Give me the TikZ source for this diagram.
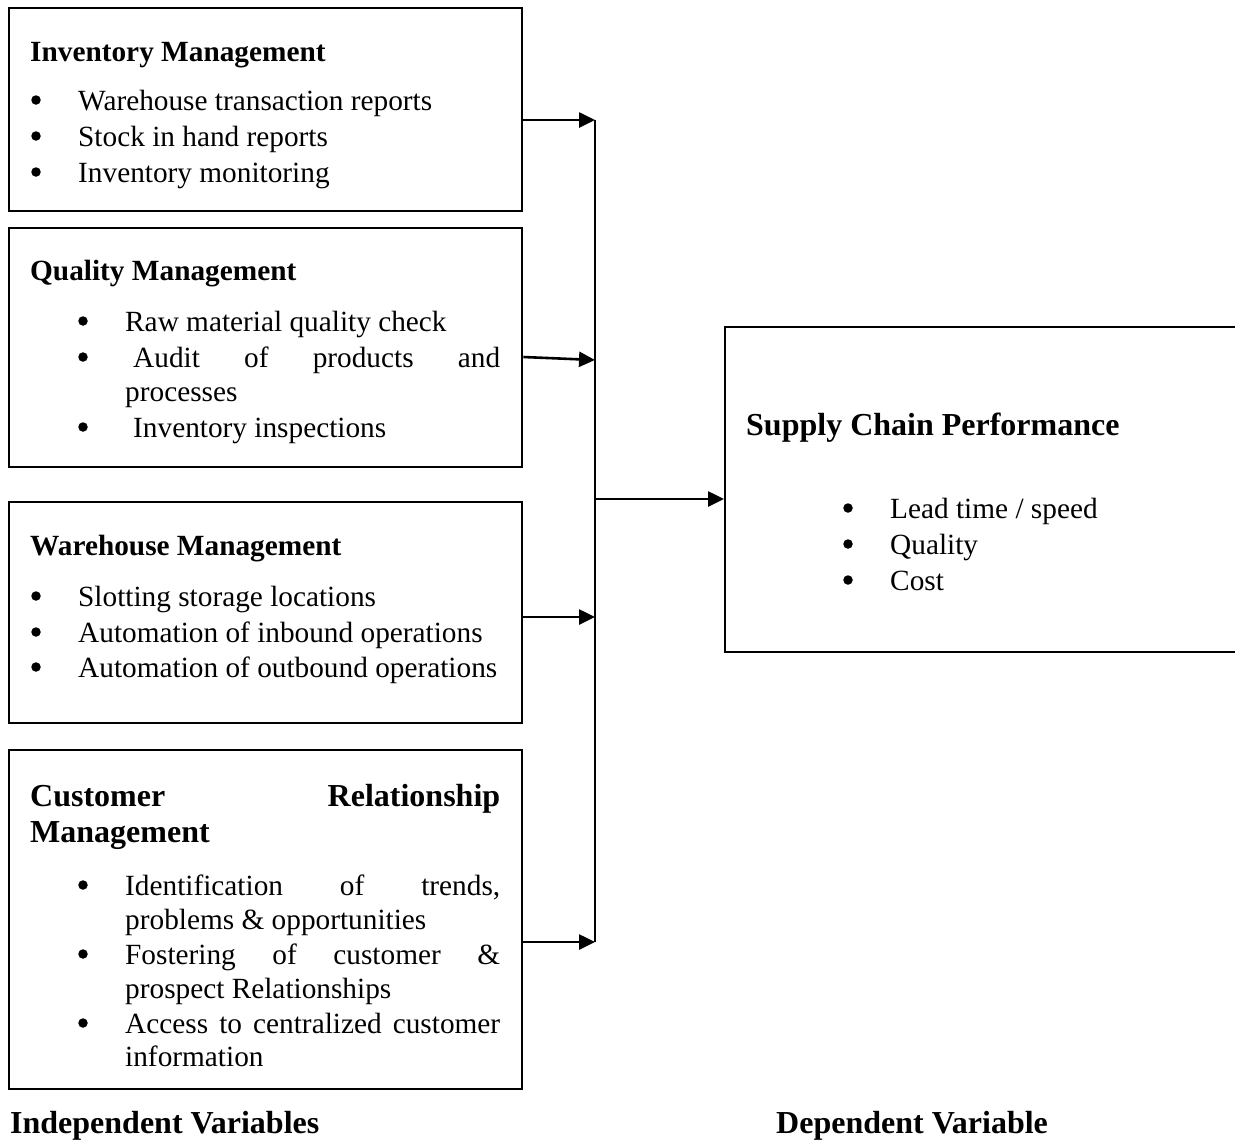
\documentclass[tikz,border=0pt]{standalone}
\usepackage{fontspec}
\setmainfont{Liberation Serif}
\usetikzlibrary{arrows.meta}
\begin{document}
\begin{tikzpicture}[x=1pt,y=-1pt,
  box/.style={draw, line width=2.4pt, anchor=north west, inner sep=0pt},
  txt/.style={anchor=base west, inner sep=0pt, font=\fontsize{29.3}{35}\selectfont},
  hd/.style={anchor=base west, inner sep=0pt, font=\fontsize{29.3}{35}\selectfont\bfseries},
  bighd/.style={anchor=base west, inner sep=0pt, font=\fontsize{32}{38}\selectfont\bfseries},
  bul/.style={circle, fill=black, inner sep=0pt, minimum size=9.5pt, yshift=10pt},
  conn/.style={line width=2.6pt, -{Triangle[length=16pt,width=15pt]}},
  trunk/.style={line width=2.6pt}]
\useasboundingbox (0,0) rectangle (1235,1141);
\clip (0,0) rectangle (1235,1141);

% boxes
\node[box, minimum width=513pt, minimum height=203pt] (inv) at (8,7) {};
\node[box, minimum width=513pt, minimum height=239pt] (qual) at (8,227) {};
\node[box, minimum width=513pt, minimum height=221pt] (ware) at (8,501) {};
\node[box, minimum width=513pt, minimum height=339pt] (crm) at (8,749) {};
\node[box, minimum width=600pt, minimum height=325pt] (perf) at (724,326) {};

% box 1
\node[hd] (h1) at (30,61) {Inventory Management};
\node[bul] (b11) at (36,110) {};
\node[txt] (t11) at (78,110) {Warehouse transaction reports};
\node[bul] (b12) at (36,146) {};
\node[txt] (t12) at (78,146) {Stock in hand reports};
\node[bul] (b13) at (36,182) {};
\node[txt] (t13) at (78,182) {Inventory monitoring};

% box 2
\node[hd] (h2) at (30,280) {Quality Management};
\node[bul] (b21) at (83,331) {};
\node[txt] (t21) at (125,331) {Raw material quality check};
\node[bul] (b22) at (83,367) {};
\node[txt] (t22) at (133,367) {\makebox[367pt][s]{Audit of products and}};
\node[txt] (t22b) at (125,401) {processes};
\node[bul] (b23) at (83,437) {};
\node[txt] (t23) at (133,437) {Inventory inspections};

% box 3
\node[hd] (h3) at (30,555) {Warehouse Management};
\node[bul] (b31) at (36,606) {};
\node[txt] (t31) at (78,606) {Slotting storage locations};
\node[bul] (b32) at (36,642) {};
\node[txt] (t32) at (78,642) {Automation of inbound operations};
\node[bul] (b33) at (36,677) {};
\node[txt] (t33) at (78,677) {Automation of outbound operations};

% box 4
\node[bighd] (h4) at (30,806) {\makebox[470pt][s]{Customer Relationship}};
\node[bighd] (h4b) at (30,842) {Management};
\node[bul] (b41) at (83,895) {};
\node[txt] (t41) at (125,895) {\makebox[375pt][s]{Identification of trends,}};
\node[txt] (t41b) at (125,929) {problems \& opportunities};
\node[bul] (b42) at (83,964) {};
\node[txt] (t42) at (125,964) {\makebox[375pt][s]{Fostering of customer \&}};
\node[txt] (t42b) at (125,998) {prospect Relationships};
\node[bul] (b43) at (83,1033) {};
\node[txt] (t43) at (125,1033) {\makebox[375pt][s]{Access to centralized customer}};
\node[txt] (t43b) at (125,1066) {information};

% right box
\node[bighd] (h5) at (746,435) {Supply Chain Performance};
\node[bul] (b51) at (848,518) {};
\node[txt] (t51) at (890,518) {Lead time / speed};
\node[bul] (b52) at (848,554) {};
\node[txt] (t52) at (890,554) {Quality};
\node[bul] (b53) at (848,590) {};
\node[txt] (t53) at (890,590) {Cost};

% bottom labels
\node[bighd] (lind) at (10,1133) {Independent Variables};
\node[bighd] (ldep) at (776,1133) {Dependent Variable};

% connectors
\coordinate (j1) at (595,120);
\coordinate (j2) at (595,360);
\coordinate (jm) at (595,499);
\coordinate (j3) at (595,617);
\coordinate (j4) at (595,942);
\draw[trunk] (j1) -- (j4);
\draw[conn] (inv.east |- j1) -- (j1);
\draw[conn] ([yshift=3pt]qual.east |- j2) -- (j2);
\draw[conn] (ware.east |- j3) -- (j3);
\draw[conn] (crm.east |- j4) -- (j4);
\draw[conn] (jm) -- (perf.west |- jm);
\end{tikzpicture}
\end{document}
